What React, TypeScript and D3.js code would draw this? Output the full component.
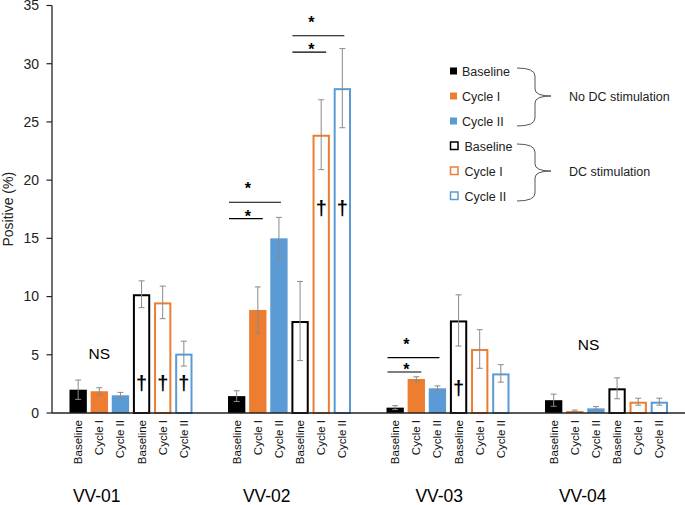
import React from "react";
import * as d3 from "d3";

// ---- data ----
const groups = ["VV-01", "VV-02", "VV-03", "VV-04"];
const seriesNames = ["Baseline", "Cycle I", "Cycle II", "Baseline", "Cycle I", "Cycle II"];
const seriesColors = ["#000000", "#ED7D31", "#5B9BD5", "#000000", "#ED7D31", "#5B9BD5"];
const seriesStimulated = [false, false, false, true, true, true];

const noStimBaseline = [2.0, 1.45, 0.46, 1.1];
const noStimCycleI = [1.87, 8.85, 2.92, 0.17];
const noStimCycleII = [1.52, 15.0, 2.12, 0.4];
const stimBaseline = [10.2, 7.9, 7.95, 2.12];
const stimCycleI = [9.5, 23.9, 5.5, 0.97];
const stimCycleII = [5.1, 27.9, 3.4, 0.97];

const noStimBaselineErr = [0.83, 0.46, 0.17, 0.52];
const noStimCycleIErr = [0.3, 1.98, 0.19, 0.08];
const noStimCycleIIErr = [0.25, 1.8, 0.21, 0.15];
const stimBaselineErr = [1.15, 3.4, 2.2, 0.9];
const stimCycleIErr = [1.4, 3.0, 1.66, 0.3];
const stimCycleIIErr = [1.07, 3.4, 0.75, 0.3];

const yTicks = [0, 5, 10, 15, 20, 25, 30, 35];

// significance brackets: group, from bar, to bar, y value, outer?
const sigGroups = ["VV-02", "VV-02", "VV-02", "VV-02", "VV-03", "VV-03"];
const sigFrom = [0, 0, 3, 3, 0, 0];
const sigTo = [1, 2, 4, 5, 1, 2];
const sigValue = [16.7, 18.1, 31.0, 32.4, 3.52, 4.75];
const sigOuter = [false, true, false, true, false, true];

// dagger marks: group, bar, value
const daggerGroups = ["VV-01", "VV-01", "VV-01", "VV-02", "VV-02", "VV-03"];
const daggerBars = [3, 4, 5, 4, 5, 3];
const daggerValue = [2.5, 2.5, 2.5, 17.5, 17.5, 2.1];

// NS labels
const nsGroups = ["VV-01", "VV-04"];
const nsBarPos = [1, 1.65];
const nsValue = [4.6, 5.4];

const legendGroupLabels = ["No DC stimulation", "DC stimulation"];

const seriesValues = [noStimBaseline, noStimCycleI, noStimCycleII, stimBaseline, stimCycleI, stimCycleII];
const seriesErrors = [noStimBaselineErr, noStimCycleIErr, noStimCycleIIErr, stimBaselineErr, stimCycleIErr, stimCycleIIErr];

const W = 685;
const H = 505;
const FONT = "'Liberation Sans', Arial, sans-serif";

export default function App() {
  const x0 = d3.scaleBand<string>().domain(groups).range([52, 686]).paddingInner(0).paddingOuter(0);
  const x1 = d3
    .scaleBand<number>()
    .domain(d3.range(6))
    .range([17.5, 140.5])
    .paddingInner(0.18)
    .paddingOuter(0);
  const y = d3.scaleLinear().domain([0, 35]).range([413, 5.5]);
  const bw = x1.bandwidth();
  const barX = (g: string, i: number) => (x0(g) as number) + (x1(i) as number);
  const barC = (g: string, i: number) => barX(g, i) + bw / 2;
  const labelShift = [-34.5, -23, -9, -24];

  const bars: React.ReactNode[] = [];
  const errs: React.ReactNode[] = [];
  const ticks: React.ReactNode[] = [];
  groups.forEach((g, gi) => {
    seriesNames.forEach((s, si) => {
      const v = seriesValues[si][gi];
      const e = seriesErrors[si][gi];
      const bx = barX(g, si);
      const col = seriesColors[si];
      if (seriesStimulated[si]) {
        bars.push(
          <rect key={`b${gi}-${si}`} x={bx + 1} y={y(v) + 1} width={bw - 2} height={y(0) - y(v) - 1}
            fill="#fff" stroke={col} strokeWidth={2} />
        );
      } else {
        bars.push(
          <rect key={`b${gi}-${si}`} x={bx} y={y(v)} width={bw} height={y(0) - y(v)} fill={col} />
        );
      }
      const cx = bx + bw / 2;
      errs.push(
        <g key={`e${gi}-${si}`} stroke="#8a8a8a" strokeWidth={1}>
          <line x1={cx} x2={cx} y1={y(v + e)} y2={y(Math.max(0, v - e))} />
          <line x1={cx - 3} x2={cx + 3} y1={y(v + e)} y2={y(v + e)} />
          <line x1={cx - 3} x2={cx + 3} y1={y(Math.max(0, v - e))} y2={y(Math.max(0, v - e))} />
        </g>
      );
      ticks.push(
        <text key={`t${gi}-${si}`} transform={`translate(${cx + 4},420) rotate(-90)`} textAnchor="end"
          fontSize={11.5} fontFamily={FONT} fill="#111">{s}</text>
      );
    });
  });

  const legendRows = seriesNames.map((s, i) => ({ s, i, yy: 71 + i * 25 }));

  const brace = (top: number, mid: number, bot: number) => {
    const xl = 517, xm = 535, xt = 551;
    return `M${xl},${top} Q${xm},${top} ${xm},${top + 8} L${xm},${mid - 7} Q${xm},${mid} ${xt},${mid} Q${xm},${mid} ${xm},${mid + 7} L${xm},${bot - 8} Q${xm},${bot} ${xl},${bot}`;
  };

  return (
    <svg width={W} height={H} style={{ position: "absolute", left: 0, top: 0, background: "#fff" }}>
      <rect x={0} y={0} width={W} height={H} fill="#fff" />
      {/* y axis */}
      <line x1={52} x2={52} y1={y(35)} y2={y(0)} stroke="#222" strokeWidth={1.3} />
      {yTicks.map((t) => (
        <g key={`yt${t}`}>
          <line x1={46.5} x2={52} y1={y(t)} y2={y(t)} stroke="#222" strokeWidth={1.2} />
          <text x={39} y={y(t)} dy="0.35em" textAnchor="end" fontSize={14} fontFamily={FONT} fill="#222">{t}</text>
        </g>
      ))}
      <text transform={`translate(13,${y(17.5)}) rotate(-90)`} textAnchor="middle" fontSize={14}
        fontFamily={FONT} fill="#222">Positive (%)</text>
      {bars}
      {errs}
      <line x1={52} x2={685} y1={y(0)} y2={y(0)} stroke="#222" strokeWidth={1.3} />
      {ticks}
      {groups.map((g, gi) => (
        <text key={`g${g}`} x={(x0(g) as number) + x0.bandwidth() / 2 + labelShift[gi]} y={501.5}
          textAnchor="middle" fontSize={17.5} fontFamily={FONT} fill="#000">{g}</text>
      ))}
      {/* significance */}
      {sigGroups.map((g, k) => {
        const xs = barX(g, sigFrom[k]) + 1;
        const xe = barC(g, sigTo[k]) + (sigOuter[k] ? 2 : 5);
        const xShortEnd = barC(g, sigFrom[k] + 1) + 5;
        const sx = (xs + xShortEnd) / 2 + 2;
        const ly = y(sigValue[k]);
        const sy = sigOuter[k] ? ly - 16 : ly - 5;
        return (
          <g key={`s${k}`}>
            <line x1={xs} x2={xe} y1={ly} y2={ly} stroke="#000" strokeWidth={1.2} />
            <text x={sx} y={sy + 8} textAnchor="middle" fontSize={16} fontWeight="bold" fontFamily={FONT} fill="#000">*</text>
          </g>
        );
      })}
      {daggerGroups.map((g, k) => (
        <text key={`d${k}`} x={barC(g, daggerBars[k])} y={y(daggerValue[k]) + 6} textAnchor="middle"
          fontSize={20} fontWeight="bold" fontFamily={FONT} fill="#000">†</text>
      ))}
      {nsGroups.map((g, k) => (
        <text key={`ns${k}`} x={barX(g, 0) + nsBarPos[k] * x1.step() + bw / 2} y={y(nsValue[k])}
          textAnchor="middle" fontSize={15.5} fontFamily={FONT} fill="#000">NS</text>
      ))}
      {/* legend */}
      {legendRows.map(({ s, i, yy }) =>
        seriesStimulated[i] ? (
          <g key={`l${i}`}>
            <rect x={450.5} y={yy - 4} width={7.5} height={7.5} fill="#fff" stroke={seriesColors[i]} strokeWidth={1.5} />
            <text x={464.5} y={yy} dy="0.36em" fontSize={12.5} fontFamily={FONT} fill="#222">{s}</text>
          </g>
        ) : (
          <g key={`l${i}`}>
            <rect x={450} y={yy - 3.5} width={7} height={7} fill={seriesColors[i]} />
            <text x={462} y={yy} dy="0.36em" fontSize={12.5} fontFamily={FONT} fill="#222">{s}</text>
          </g>
        )
      )}
      <path d={brace(68, 96, 126)} fill="none" stroke="#555" strokeWidth={1} />
      <path d={brace(144, 171, 201)} fill="none" stroke="#555" strokeWidth={1} />
      <text x={569} y={96} dy="0.36em" fontSize={12.5} fontFamily={FONT} fill="#222">{legendGroupLabels[0]}</text>
      <text x={569} y={171} dy="0.36em" fontSize={12.5} fontFamily={FONT} fill="#222">{legendGroupLabels[1]}</text>
    </svg>
  );
}
